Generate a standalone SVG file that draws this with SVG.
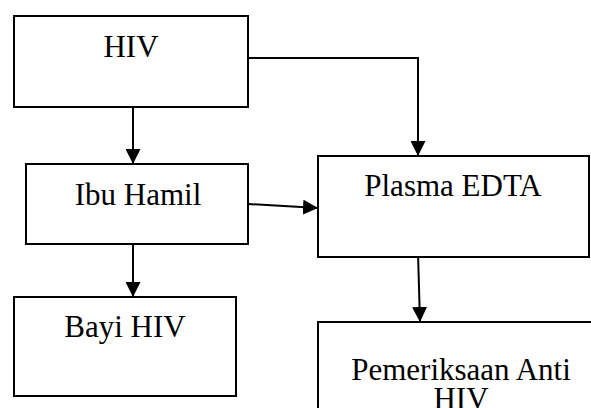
<svg xmlns="http://www.w3.org/2000/svg" width="591" height="408" viewBox="0 0 591 408">
<style>
.box{fill:#fff;stroke:#000;stroke-width:2}
.t{font-family:"Liberation Serif","Times New Roman",serif;font-size:31px;fill:#000;text-anchor:middle}
.c{fill:none;stroke:#000;stroke-width:2}
</style>
<defs>
<marker id="ah" viewBox="0 0 10 10" refX="10" refY="5" markerWidth="15" markerHeight="15" markerUnits="userSpaceOnUse" orient="auto">
<path d="M0,0 L10,5 L0,10 Z" fill="#000"/>
</marker>
</defs>
<rect width="591" height="408" fill="#fff"/>
<g id="connectors">
<line class="c" x1="133" y1="107" x2="133" y2="164" marker-end="url(#ah)"/>
<line class="c" x1="133" y1="244" x2="133" y2="297" marker-end="url(#ah)"/>
<polyline class="c" points="248,58 418,58 418,156" marker-end="url(#ah)"/>
<line class="c" x1="248" y1="204" x2="318" y2="208" marker-end="url(#ah)"/>
<line class="c" x1="418" y1="253" x2="420" y2="322" marker-end="url(#ah)"/>
</g>
<g id="hiv">
<rect class="box" x="14" y="16" width="234" height="91"/>
<text class="t" x="131" y="57">HIV</text>
</g>
<g id="ibu-hamil">
<rect class="box" x="26" y="164" width="222" height="80"/>
<text class="t" x="138" y="205">Ibu Hamil</text>
</g>
<g id="bayi-hiv">
<rect class="box" x="14" y="297" width="222" height="99"/>
<text class="t" x="125" y="337">Bayi HIV</text>
</g>
<g id="plasma-edta">
<rect class="box" x="318" y="156" width="271" height="101"/>
<text class="t" x="453" y="196">Plasma EDTA</text>
</g>
<g id="pemeriksaan">
<rect class="box" x="318" y="322" width="290" height="100"/>
<text class="t" x="461" y="380">Pemeriksaan Anti</text>
<text class="t" x="461" y="409">HIV</text>
</g>
</svg>
